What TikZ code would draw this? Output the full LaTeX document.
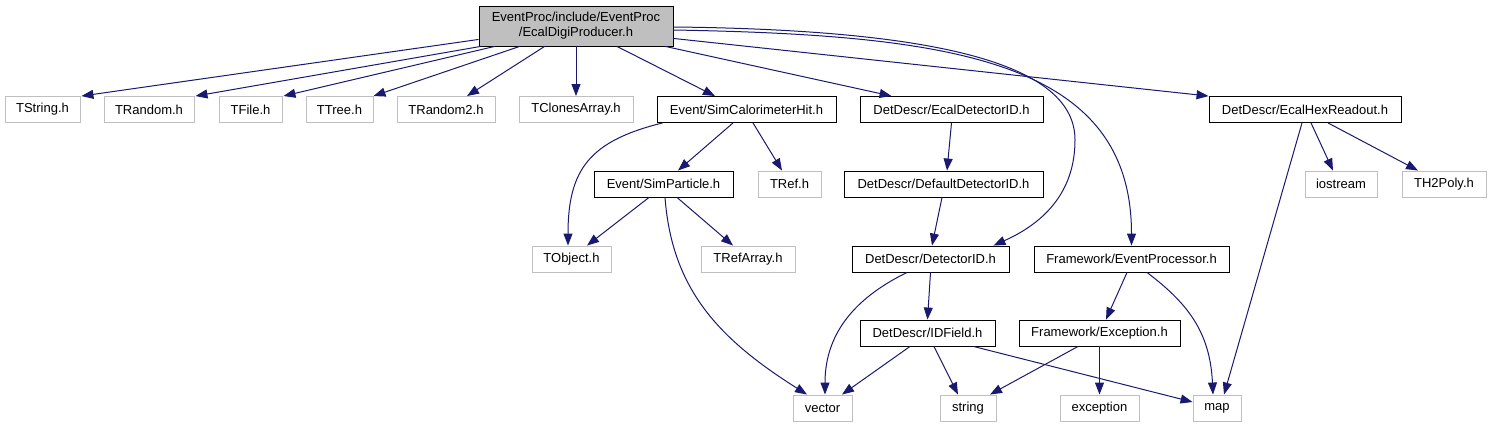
\documentclass[tikz,border=0pt]{standalone}
\usepackage{fontspec}
\setmainfont{Liberation Sans}
\usetikzlibrary{arrows.meta}
\definecolor{edgeblue}{HTML}{191970}
\definecolor{extgray}{HTML}{BFBFBF}
\definecolor{rootfill}{HTML}{BFBFBF}

\begin{document}
\begin{tikzpicture}[
    x=1pt, y=1pt,
    file/.style={
        rectangle, inner sep=2pt, minimum height=26pt,
        text centered, line width=0.9pt,
        font=\fontsize{13}{15}\selectfont
    },
    doc/.style={file, draw=black},
    ext/.style={file, draw=extgray},
    mainfile/.style={
        file, draw=black, fill=rootfill, align=center,
        minimum width=194pt, minimum height=40pt
    },
    edge/.style={
        line width=1pt, draw=edgeblue,
        -{Triangle[length=12pt, width=9pt]}
    }
]
\useasboundingbox (0,0) rectangle (1491,-427);

% ===== Nodes =====
\node[mainfile] (root) at (576,-26) {EventProc/include/EventProc\\/EcalDigiProducer.h};

\node[ext, minimum width=75pt]  (tstring)    at (42.5,-109.5) {TString.h};
\node[ext, minimum width=90pt]  (trandom)    at (149,-109.5)  {TRandom.h};
\node[ext, minimum width=63pt]  (tfile)      at (250.5,-109.5) {TFile.h};
\node[ext, minimum width=67pt]  (ttree)      at (339.5,-109.5) {TTree.h};
\node[ext, minimum width=98pt]  (trandomtwo) at (446,-109.5)  {TRandom2.h};
\node[ext, minimum width=114pt] (tclones)    at (576,-109.5)  {TClonesArray.h};
\node[doc, minimum width=179pt] (simcalo)    at (746.5,-109.5) {Event/SimCalorimeterHit.h};
\node[doc, minimum width=183pt] (ecaldetid)  at (951.5,-109.5) {DetDescr/EcalDetectorID.h};
\node[doc, minimum width=192pt] (ecalhex)    at (1305,-109.5) {DetDescr/EcalHexReadout.h};

\node[doc, minimum width=139pt] (simpart)    at (663.5,-184) {Event/SimParticle.h};
\node[ext, minimum width=63pt]  (tref)       at (789.5,-184) {TRef.h};
\node[doc, minimum width=199pt] (defdetid)   at (943.5,-184) {DetDescr/DefaultDetectorID.h};
\node[ext, minimum width=72pt]  (iostream)   at (1341,-184)  {iostream};
\node[ext, minimum width=84pt]  (thtwopoly)  at (1444,-184)  {TH2Poly.h};

\node[ext, minimum width=79pt]  (tobject)    at (571.5,-259) {TObject.h};
\node[ext, minimum width=94pt]  (trefarray)  at (748,-259)   {TRefArray.h};
\node[doc, minimum width=157pt] (detid)      at (930.5,-259) {DetDescr/DetectorID.h};
\node[doc, minimum width=195pt] (evproc)     at (1131.5,-259) {Framework/EventProcessor.h};

\node[doc, minimum width=135pt] (idfield)    at (927.5,-333) {DetDescr/IDField.h};
\node[doc, minimum width=161pt] (frameexc)   at (1099.5,-333) {Framework/Exception.h};

\node[ext, minimum width=59pt]  (vector)     at (822.5,-408) {vector};
\node[ext, minimum width=56pt]  (string)     at (968,-408)   {string};
\node[ext, minimum width=79pt]  (stdexc)     at (1099.5,-408) {exception};
\node[ext, minimum width=48pt]  (map)        at (1217,-408)  {map};

\coordinate (bendA) at (1075,-140);

% ===== Edges from the main file =====
\draw[edge] ([yshift=7pt]root.south west) -- ([xshift=1pt]tstring.north east);
\draw[edge] ([xshift=2pt]root.south west) -- ([xshift=1pt]trandom.north east);
\draw[edge] ([xshift=16pt]root.south west) -- ([xshift=1pt]tfile.north east);
\draw[edge] ([xshift=41pt]root.south west) -- (ttree.north east);
\draw[edge] ([xshift=66pt]root.south west) -- ([xshift=21pt]trandomtwo.north);
\draw[edge] (root.south) -- (tclones.north);
\draw[edge] ([xshift=41pt]root.south) -- ([xshift=-31.5pt]simcalo.north);
\draw[edge] ([xshift=-8pt]root.south east) -- ([xshift=32pt]ecaldetid.north west);
\draw[edge] ([yshift=8pt]root.south east) -- (ecalhex.north west);
\draw[edge] ([yshift=-1pt]root.east) .. controls +(287,-3) and +(0,70) .. (bendA)
    .. controls +(0,-55) and +(47,21) .. ([xshift=-16pt]detid.north east);
\draw[edge] ([yshift=-4pt]root.east) .. controls +(277,-5) and +(0,186) .. (evproc.north);

% ===== Event headers =====
\draw[edge] ([xshift=6pt]simcalo.south west) .. controls +(-73,-18) and +(0,76) .. ([xshift=-3.5pt]tobject.north);
\draw[edge] ([xshift=-13.5pt]simcalo.south) -- ([xshift=14.5pt]simpart.north);
\draw[edge] ([xshift=6.5pt]simcalo.south) -- ([xshift=-7.5pt]tref.north);
\draw[edge] ([xshift=-14.5pt]simpart.south) -- ([xshift=15.5pt]tobject.north);
\draw[edge] ([xshift=13.5pt]simpart.south) -- ([xshift=-15pt]trefarray.north);
\draw[edge] ([xshift=1.5pt]simpart.south) .. controls +(7,-93) and +(-87,55) .. ([xshift=-15.5pt]vector.north);

% ===== DetDescr headers =====
\draw[edge] (ecaldetid.south) -- ([xshift=3.5pt]defdetid.north);
\draw[edge] ([xshift=-1.5pt]defdetid.south) -- ([xshift=1.5pt]detid.north);
\draw[edge] ([xshift=-23.5pt]detid.south) .. controls +(-47,-23) and +(0,65) .. ([xshift=2.5pt]vector.north);
\draw[edge] (detid.south) -- (idfield.north);
\draw[edge] ([xshift=-17.5pt]idfield.south) -- ([xshift=19.5pt]vector.north);
\draw[edge] ([xshift=6.5pt]idfield.south) -- ([xshift=-10pt]string.north);
\draw[edge] ([xshift=-22pt]idfield.south east) -- ([yshift=6pt]map.west);
\draw[edge] ([xshift=-3pt]ecalhex.south) -- ([xshift=7pt]map.north);
\draw[edge] ([xshift=6pt]ecalhex.south) -- ([xshift=-8pt]iostream.north);
\draw[edge] ([xshift=23pt]ecalhex.south) -- ([xshift=-26pt]thtwopoly.north);

% ===== Framework headers =====
\draw[edge] ([xshift=-4.5pt]evproc.south) -- ([xshift=6.5pt]frameexc.north);
\draw[edge] ([xshift=15.5pt]evproc.south) .. controls +(38,-29) and +(-3,65) .. ([xshift=-4pt]map.north);
\draw[edge] ([xshift=-21.5pt]frameexc.south) -- ([xshift=22pt]string.north);
\draw[edge] (frameexc.south) -- (stdexc.north);

\end{tikzpicture}
\end{document}
